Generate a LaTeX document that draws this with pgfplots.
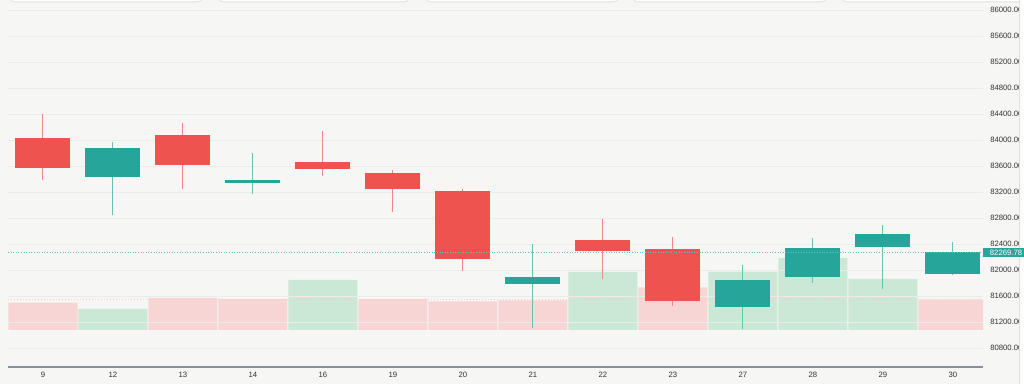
\documentclass[border=0pt]{standalone}
\usepackage{pgfplots}
\pgfplotsset{compat=1.18}
\usepackage{pgfplotstable}
\usepackage{fontspec}
\setmainfont{Liberation Sans}
\definecolor{bg}{RGB}{246,247,245}
\definecolor{upc}{HTML}{26A69A}
\definecolor{downc}{HTML}{EF5350}
\definecolor{volup}{RGB}{203,232,214}
\definecolor{voldown}{RGB}{247,213,213}
\definecolor{gridc}{RGB}{234,236,233}
\definecolor{axisc}{RGB}{140,143,155}
\definecolor{labc}{RGB}{50,50,50}

% bearish candles (close < open)
\pgfplotstableread{
x open high low close
0 84026 84400 83385 83564
2 84077 84256 83246 83615
4 83662 84138 83446 83554
5 83497 83538 82887 83241
6 83210 83246 81990 82174
8 82456 82779 81862 82292
9 82328 82508 81451 81523
}\downc
% bullish candles (close > open)
\pgfplotstableread{
x open high low close
1 83426 83964 82846 83872
3 83345 83805 83169 83380
7 81785 82400 81108 81897
10 81426 82077 81087 81846
11 81887 82497 81805 82333
12 82359 82692 81703 82559
13 81938 82426 81923 82269.78
}\upc
% volume (relative units)
\pgfplotstableread{
x vol
0 2730
2 3200
3 3100
5 3100
6 2870
7 2970
9 4270
13 3070
}\vdown
\pgfplotstableread{
x vol
1 2100
4 5000
8 5800
10 5830
11 7200
12 5100
}\vup

\begin{document}
\begin{tikzpicture}
\fill[bg] (0,0) rectangle (768pt,288pt);
\foreach \a/\b in {10/202,219/409,426/618,633/826,842/1040}{
  \filldraw[fill=white, draw=black!12, line width=0.6pt, rounded corners=3pt] (\a*0.75pt,286.6pt) rectangle (\b*0.75pt,300pt);
}
\pgfplotsset{every axis/.append style={scale only axis, width=731.25pt, height=275.25pt,
  at={(6pt,12.75pt)}, anchor=south west, xmin=-0.5, xmax=13.43}}
\begin{axis}[hide axis, ymin=-3700, ymax=33000]
\addplot[ybar, bar width=0.986, bar shift=0pt, fill=voldown, draw=none] table[x=x,y=vol]{\vdown};
\addplot[ybar, bar width=0.986, bar shift=0pt, fill=volup, draw=none] table[x=x,y=vol]{\vup};
\addplot[downc!30, line width=0.6pt, dash pattern=on 0.75pt off 1.5pt] coordinates {(-0.5,3070) (13.43,3070)};
\end{axis}
\begin{axis}[
  ymin=80507.7, ymax=86153.8,
  clip mode=individual,
  axis x line*=bottom, axis y line*=right,
  y axis line style={draw=none},
  x axis line style={axisc, line width=0.9pt},
  major tick length=0pt,
  ymajorgrids, grid style={gridc, line width=0.6pt},
  ytick={80800,81200,...,86000},
  scaled y ticks=false,
  yticklabel style={anchor=west, xshift=5.25pt, inner sep=0pt, font=\fontsize{5.8}{6.5}\selectfont, text=labc,
    /pgf/number format/.cd, fixed, fixed zerofill, precision=2, 1000 sep={}, assume math mode=true},
  xtick={0,...,13},
  xticklabels={9,12,13,14,16,19,20,21,22,23,27,28,29,30},
  xticklabel style={anchor=center, yshift=-6.2pt, inner sep=0pt, font=\fontsize{5.8}{6.5}\selectfont, text=labc},
]
% wicks
\addplot[draw=none, mark=none, error bars/.cd, y dir=plus, y explicit, error mark=none,
  error bar style={draw=downc!70, line width=0.75pt}]
  table[x=x, y=low, y error expr=\thisrow{high}-\thisrow{low}] {\downc};
\addplot[draw=none, mark=none, error bars/.cd, y dir=plus, y explicit, error mark=none,
  error bar style={draw=upc!70, line width=0.75pt}]
  table[x=x, y=low, y error expr=\thisrow{high}-\thisrow{low}] {\upc};
% bodies
\addplot[draw=none, mark=none, error bars/.cd, y dir=plus, y explicit, error mark=none,
  error bar style={draw=downc, line width=41.25pt}]
  table[x=x, y=close, y error expr=\thisrow{open}-\thisrow{close}] {\downc};
\addplot[draw=none, mark=none, error bars/.cd, y dir=plus, y explicit, error mark=none,
  error bar style={draw=upc, line width=41.25pt}]
  table[x=x, y=open, y error expr=\thisrow{close}-\thisrow{open}] {\upc};
% last price line
\addplot[upc!70, line width=0.7pt, dash pattern=on 0.75pt off 1.2pt] coordinates {(-0.5,82269.78) (13.43,82269.78)};
\coordinate (pl) at (axis cs:13.43,82269.78);
\end{axis}
\fill[white!60!bg] (764.6pt,0) rectangle (768pt,288pt);
\draw[black!12, line width=0.6pt] (764.6pt,0) -- (764.6pt,288pt);
\node[anchor=west, fill=upc, text=white, inner xsep=0pt, inner ysep=0pt, minimum height=7pt,
  font=\fontsize{5.8}{6.5}\selectfont, text width=35pt, align=left] at (pl) {\hspace*{5pt}82269.78};
\pgfresetboundingbox
\path[use as bounding box] (0,0) rectangle (768pt,288pt);
\end{tikzpicture}
\end{document}
